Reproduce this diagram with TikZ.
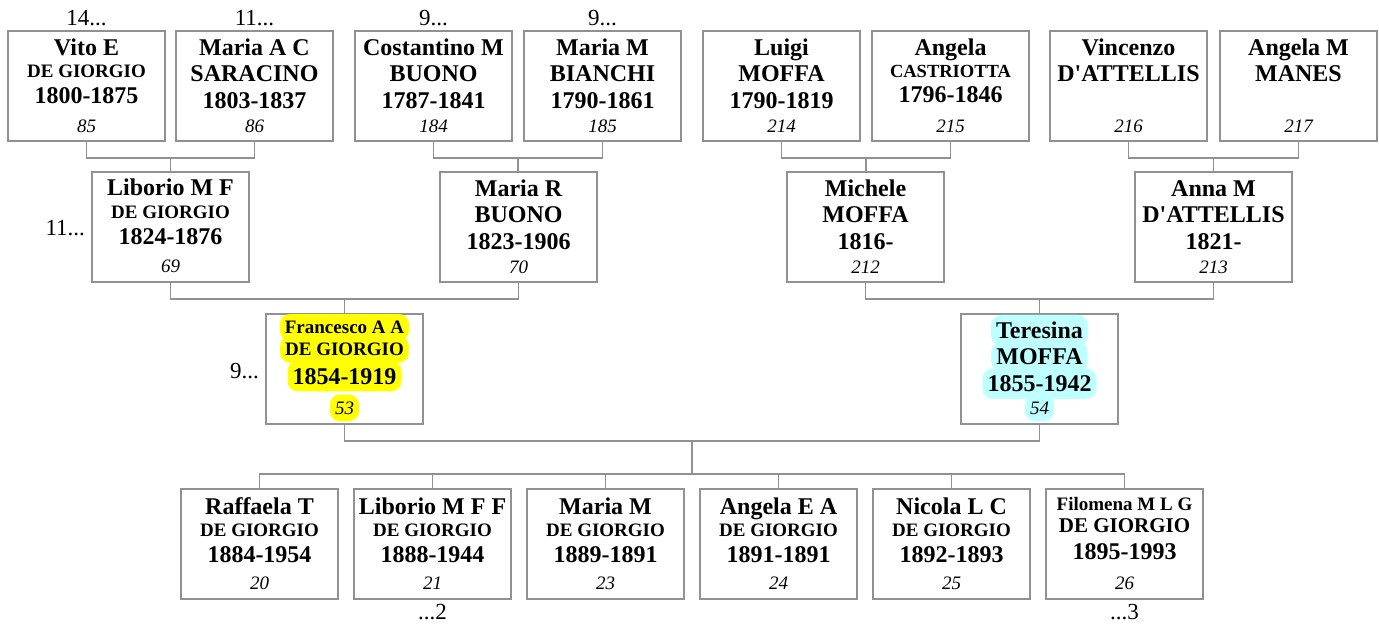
\documentclass[tikz,border=0pt]{standalone}
\usepackage{fontspec}
\setmainfont{Liberation Serif}[Ligatures=TeXOff]
\usetikzlibrary{calc}
\definecolor{linegray}{RGB}{145,145,145}
\definecolor{hlyellow}{RGB}{255,255,0}
\definecolor{hlcyan}{RGB}{190,255,255}
\tikzset{
 pbox/.style={draw=linegray, line width=1.8pt, minimum width=157pt, minimum height=110pt, inner sep=0pt},
 conn/.style={draw=linegray, line width=1.8pt},
 big/.style={font=\fontsize{24}{24}\selectfont\bfseries, anchor=base, inner sep=0pt},
 mid/.style={font=\fontsize{19}{19}\selectfont\bfseries, anchor=base, inner sep=0pt},
 midb/.style={font=\fontsize{21}{21}\selectfont\bfseries, anchor=base, inner sep=0pt},
 sml/.style={font=\fontsize{18.5}{18.5}\selectfont\bfseries, anchor=base, inner sep=0pt},
 num/.style={font=\fontsize{19}{19}\selectfont\itshape, anchor=base, inner sep=0pt},
 lab/.style={font=\fontsize{23}{23}\selectfont, anchor=base, inner sep=0pt},
 hly/.style={fill=hlyellow, rounded corners=10pt, inner xsep=5pt, inner ysep=7pt},
 hlc/.style={fill=hlcyan, rounded corners=10pt, inner xsep=5pt, inner ysep=7pt},
}
\newcommand\pline[5]{\node[#2] (#1) at ([yshift=-#4pt]#3.north) {#5};}
\begin{document}
\begin{tikzpicture}[x=1pt,y=-1pt]
\useasboundingbox (0,0) rectangle (1379,625);
% ---------- row 1
\node[pbox] (a1) at (86.5,86) {};
\node[pbox] (a2) at (254.5,86) {};
\node[pbox] (a3) at (433.5,86) {};
\node[pbox] (a4) at (602.5,86) {};
\node[pbox] (a5) at (781.5,86) {};
\node[pbox] (a6) at (950.5,86) {};
\node[pbox] (a7) at (1128.5,86) {};
\node[pbox] (a8) at (1298.5,86) {};
\pline{a1n}{big}{a1}{25}{Vito E}
\pline{a1s}{mid}{a1}{47}{DE GIORGIO}
\pline{a1d}{big}{a1}{73.5}{1800-1875}
\pline{a1i}{num}{a1}{102}{85}
\pline{a2n}{big}{a2}{25}{Maria A C}
\pline{a2s}{big}{a2}{51.5}{SARACINO}
\pline{a2d}{big}{a2}{78}{1803-1837}
\pline{a2i}{num}{a2}{102}{86}
\pline{a3n}{big}{a3}{25}{Costantino M}
\pline{a3s}{big}{a3}{51.5}{BUONO}
\pline{a3d}{big}{a3}{78}{1787-1841}
\pline{a3i}{num}{a3}{102}{184}
\pline{a4n}{big}{a4}{25}{Maria M}
\pline{a4s}{big}{a4}{51.5}{BIANCHI}
\pline{a4d}{big}{a4}{78}{1790-1861}
\pline{a4i}{num}{a4}{102}{185}
\pline{a5n}{big}{a5}{25}{Luigi}
\pline{a5s}{big}{a5}{51.5}{MOFFA}
\pline{a5d}{big}{a5}{78}{1790-1819}
\pline{a5i}{num}{a5}{102}{214}
\pline{a6n}{big}{a6}{25}{Angela}
\pline{a6s}{sml}{a6}{47}{CASTRIOTTA}
\pline{a6d}{big}{a6}{72.5}{1796-1846}
\pline{a6i}{num}{a6}{102}{215}
\pline{a7n}{big}{a7}{25}{Vincenzo}
\pline{a7s}{big}{a7}{51.5}{D'ATTELLIS}
\pline{a7i}{num}{a7}{102}{216}
\pline{a8n}{big}{a8}{25}{Angela M}
\pline{a8s}{big}{a8}{51.5}{MANES}
\pline{a8i}{num}{a8}{102}{217}
% labels above
\node[lab] (l1) at ([yshift=5pt]a1.north) {14...};
\node[lab] (l2) at ([yshift=5pt]a2.north) {11...};
\node[lab] (l3) at ([yshift=5pt]a3.north) {9...};
\node[lab] (l4) at ([yshift=5pt]a4.north) {9...};
% ---------- row 2
\node[pbox] (b1) at (170.5,227) {};
\node[pbox] (b2) at (518.5,227) {};
\node[pbox] (b3) at (865.5,227) {};
\node[pbox] (b4) at (1213.5,227) {};
\pline{b1n}{big}{b1}{24.5}{Liborio M F}
\pline{b1s}{mid}{b1}{47}{DE GIORGIO}
\pline{b1d}{big}{b1}{73}{1824-1876}
\pline{b1i}{num}{b1}{101}{69}
\pline{b2n}{big}{b2}{25}{Maria R}
\pline{b2s}{big}{b2}{51.5}{BUONO}
\pline{b2d}{big}{b2}{78}{1823-1906}
\pline{b2i}{num}{b2}{102}{70}
\pline{b3n}{big}{b3}{25}{Michele}
\pline{b3s}{big}{b3}{51.5}{MOFFA}
\pline{b3d}{big}{b3}{78}{1816-}
\pline{b3i}{num}{b3}{102}{212}
\pline{b4n}{big}{b4}{25}{Anna M}
\pline{b4s}{big}{b4}{51.5}{D'ATTELLIS}
\pline{b4d}{big}{b4}{78}{1821-}
\pline{b4i}{num}{b4}{102}{213}
\node[lab, anchor=base east] (l5) at ([xshift=-6pt,yshift=-64pt]b1.north west) {11...};
% ---------- row 3
\node[pbox] (f) at (344.5,369) {};
\node[pbox] (t) at (1039.5,369) {};
\pline{fn}{mid,hly}{f}{20.5}{Francesco A A}
\pline{fs}{mid,hly}{f}{42.5}{DE GIORGIO}
\pline{fd}{big,hly}{f}{71}{1854-1919}
\pline{fi}{num,hly}{f}{101}{53}
\pline{tn}{big,hlc}{t}{25.5}{Teresina}
\pline{ts}{big,hlc}{t}{51.5}{MOFFA}
\pline{td}{big,hlc}{t}{78.5}{1855-1942}
\pline{ti}{num,hlc}{t}{101}{54}
\node[lab, anchor=base east] (l6) at ([xshift=-6pt,yshift=-65pt]f.north west) {9...};
% ---------- row 4
\node[pbox] (c1) at (259.5,544) {};
\node[pbox] (c2) at (432.5,544) {};
\node[pbox] (c3) at (605.5,544) {};
\node[pbox] (c4) at (778.5,544) {};
\node[pbox] (c5) at (951.5,544) {};
\node[pbox] (c6) at (1124.5,544) {};
\pline{c1n}{big}{c1}{26.5}{Raffaela T}
\pline{c1s}{mid}{c1}{48}{DE GIORGIO}
\pline{c1d}{big}{c1}{74}{1884-1954}
\pline{c1i}{num}{c1}{101.5}{20}
\pline{c2n}{big}{c2}{26.5}{Liborio M F F}
\pline{c2s}{mid}{c2}{48}{DE GIORGIO}
\pline{c2d}{big}{c2}{74}{1888-1944}
\pline{c2i}{num}{c2}{101.5}{21}
\pline{c3n}{big}{c3}{26.5}{Maria M}
\pline{c3s}{mid}{c3}{48}{DE GIORGIO}
\pline{c3d}{big}{c3}{74}{1889-1891}
\pline{c3i}{num}{c3}{101.5}{23}
\pline{c4n}{big}{c4}{26.5}{Angela E A}
\pline{c4s}{mid}{c4}{48}{DE GIORGIO}
\pline{c4d}{big}{c4}{74}{1891-1891}
\pline{c4i}{num}{c4}{101.5}{24}
\pline{c5n}{big}{c5}{26.5}{Nicola L C}
\pline{c5s}{mid}{c5}{48}{DE GIORGIO}
\pline{c5d}{big}{c5}{74}{1892-1893}
\pline{c5i}{num}{c5}{101.5}{25}
\pline{c6n}{mid}{c6}{22.5}{Filomena M L G}
\pline{c6s}{midb}{c6}{44}{DE GIORGIO}
\pline{c6d}{big}{c6}{71.5}{1895-1993}
\pline{c6i}{num}{c6}{101.5}{26}
\node[lab] (l7) at ([yshift=-20pt]c2.south) {...2};
\node[lab] (l8) at ([yshift=-20pt]c6.south) {...3};
% ---------- connectors
\coordinate (j1) at ($(a1.south)!0.5!(a2.south)+(0,16)$);
\coordinate (j2) at ($(a3.south)!0.5!(a4.south)+(0,16)$);
\coordinate (j3) at ($(a5.south)!0.5!(a6.south)+(0,16)$);
\coordinate (j4) at ($(a7.south)!0.5!(a8.south)+(0,16)$);
\draw[conn] (a1.south) |- (j1) -| (a2.south);
\draw[conn] (j1) -- (j1 |- b1.north);
\draw[conn] (a3.south) |- (j2) -| (a4.south);
\draw[conn] (j2) -- (j2 |- b2.north);
\draw[conn] (a5.south) |- (j3) -| (a6.south);
\draw[conn] (j3) -- (j3 |- b3.north);
\draw[conn] (a7.south) |- (j4) -| (a8.south);
\draw[conn] (j4) -- (j4 |- b4.north);
\coordinate (j5) at ($(b1.south)!0.5!(b2.south)+(0,16)$);
\coordinate (j6) at ($(b3.south)!0.5!(b4.south)+(0,16)$);
\draw[conn] (b1.south) |- (j5) -| (b2.south);
\draw[conn] (j5) -- (j5 |- f.north);
\draw[conn] (b3.south) |- (j6) -| (b4.south);
\draw[conn] (j6) -- (j6 |- t.north);
\coordinate (j7) at ($(f.south)!0.5!(t.south)+(0,16)$);
\coordinate (bar) at ($(j7)+(0,33)$);
\draw[conn] (f.south) |- (j7) -| (t.south);
\draw[conn] (j7) -- (bar);
\draw[conn] (c1.north) |- (bar) -| (c6.north);
\draw[conn] (c2.north) -- (c2.north |- bar);
\draw[conn] (c3.north) -- (c3.north |- bar);
\draw[conn] (c4.north) -- (c4.north |- bar);
\draw[conn] (c5.north) -- (c5.north |- bar);
\end{tikzpicture}
\end{document}
